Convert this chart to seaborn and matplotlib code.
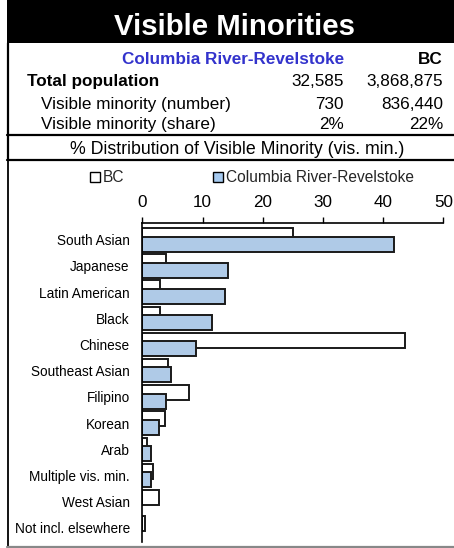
import matplotlib
matplotlib.use("Agg")
import matplotlib.pyplot as plt
import seaborn as sns
import pandas as pd
from matplotlib.patches import Rectangle, Patch
from matplotlib.lines import Line2D

# ---------------- data ----------------
categories = ["South Asian", "Japanese", "Latin American", "Black", "Chinese",
              "Southeast Asian", "Filipino", "Korean", "Arab",
              "Multiple vis. min.", "West Asian", "Not incl. elsewhere"]
bc_values = [25.1, 3.9, 2.9, 3.0, 43.7, 4.2, 7.7, 3.8, 0.8, 1.8, 2.7, 0.5]
crr_values = [41.8, 14.3, 13.7, 11.6, 8.9, 4.8, 4.0, 2.8, 1.4, 1.4, 0.0, 0.0]
series = ["BC", "Columbia River-Revelstoke"]
x_ticks = [0, 10, 20, 30, 40, 50]

title = "Visible Minorities"
subtitle = "% Distribution of Visible Minority (vis. min.)"
table_rows = ["Total population", "Visible minority (number)", "Visible minority (share)"]
crr_stats = ["32,585", "730", "2%"]
bc_stats = ["3,868,875", "836,440", "22%"]

# ---------------- style ----------------
sns.set_theme(style="white")
plt.rcParams["font.family"] = ["Liberation Sans", "DejaVu Sans"]

W, H = 454, 548
fig = plt.figure(figsize=(W / 100, H / 100), dpi=100)
fig.patch.set_facecolor("white")


def fx(px):
    return px / W


def fy(py):
    return 1 - py / H


BLUE = "#A6CAF0"
EDGE = "#1a1a1a"

# ---------------- chart ----------------
ax = fig.add_axes([fx(142.3), fy(542), 301 / W, 319 / H])
df = pd.DataFrame({
    "category": categories * 2,
    "value": bc_values + crr_values,
    "region": [series[0]] * len(categories) + [series[1]] * len(categories),
})
sns.barplot(data=df, x="value", y="category", hue="region", hue_order=series,
            order=categories, orient="h", dodge=True, width=0.648,
            palette={series[0]: "white", series[1]: BLUE},
            edgecolor=EDGE, linewidth=1.4, legend=False, errorbar=None, ax=ax)

# Excel-style overlapping bars: widen each bar around its own centre
for p in ax.patches:
    cy = p.get_y() + p.get_height() / 2
    h = 0.573
    p.set_y(cy - h / 2)
    p.set_height(h)
    if p.get_width() == 0:
        p.set_linewidth(0)

ax.set_xlim(0, 50)
ax.set_ylim(11.54, -0.64)
ax.xaxis.tick_top()
ax.set_xticks(x_ticks)
ax.set_xticklabels([str(t) for t in x_ticks])
ax.set_xlabel("")
ax.set_ylabel("")
ax.set_facecolor("none")
for s in ["bottom", "right"]:
    ax.spines[s].set_visible(False)
for s in ["top", "left"]:
    ax.spines[s].set_color("black")
    ax.spines[s].set_linewidth(1.2)
ax.tick_params(axis="x", top=True, bottom=False, labeltop=True, labelbottom=False,
               direction="out", length=4, width=1, color="black",
               labelsize=12.3, pad=5.5, labelcolor="black")
ax.tick_params(axis="y", left=False, length=0, pad=9, labelsize=9.8,
               labelcolor="black")

# legend
handles = [Patch(facecolor="white", edgecolor="black", linewidth=1),
           Patch(facecolor=BLUE, edgecolor="black", linewidth=1)]
fig.legend(handles=handles, labels=series, loc="center",
           bbox_to_anchor=(fx(252), fy(178)), ncol=2, frameon=False,
           fontsize=11.2, handlelength=0.65, handleheight=0.65,
           handletextpad=0.2, columnspacing=5.7, borderpad=0, borderaxespad=0)

# ---------------- header / frames ----------------
fig.add_artist(Rectangle((fx(7), fy(43)), fx(454) - fx(7), fy(0) - fy(43),
                         transform=fig.transFigure, facecolor="black",
                         edgecolor="none", zorder=0))
fig.text(fx(235), fy(35), title, color="white", fontsize=21.2,
         fontweight="bold", ha="center", va="baseline")


def hline(y, x0, x1, color="black", lw=1.6):
    fig.add_artist(Line2D([fx(x0), fx(x1)], [fy(y), fy(y)],
                          transform=fig.transFigure, color=color, lw=lw))


def vline(x, y0, y1, color="black", lw=1.6):
    fig.add_artist(Line2D([fx(x), fx(x)], [fy(y0), fy(y1)],
                          transform=fig.transFigure, color=color, lw=lw))


vline(7.8, 43, 159)
hline(135, 7, 454)
hline(159.5, 7, 454)
vline(7.5, 161, 547, lw=1.3)
hline(547, 7, 454, color="#888888", lw=1.6)

# table
fig.text(fx(344), fy(64), series[1], color="#3333CC", fontsize=12.3,
         fontweight="bold", ha="right", va="baseline")
fig.text(fx(443), fy(64), series[0], color="black", fontsize=12.3,
         fontweight="bold", ha="right", va="baseline")
row_y = [86, 109, 129]
row_x = [27, 41, 41]
for i, lab in enumerate(table_rows):
    fig.text(fx(row_x[i]), fy(row_y[i]), lab, color="black", fontsize=12.3,
             fontweight="bold" if i == 0 else "normal", ha="left", va="baseline")
    fig.text(fx(344), fy(row_y[i]), crr_stats[i], color="black", fontsize=12.3,
             ha="right", va="baseline")
    fig.text(fx(443), fy(row_y[i]), bc_stats[i], color="black", fontsize=12.3,
             ha="right", va="baseline")

fig.text(fx(237), fy(154.5), subtitle, color="black", fontsize=12.8,
         ha="center", va="baseline")

fig.savefig("out.png", dpi=100)
